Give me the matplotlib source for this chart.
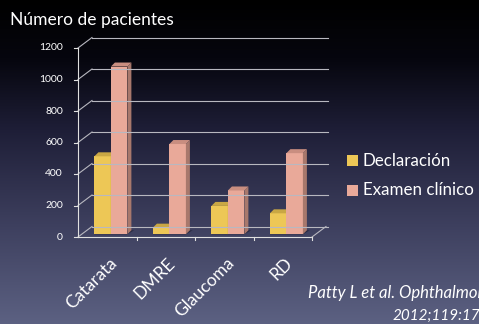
import numpy as np
import matplotlib.pyplot as plt
from matplotlib.patches import Polygon

categories = ['Catarata', 'DMRE', 'Glaucoma', 'RD']
declaracion = [495, 42, 180, 133]
examen = [1065, 573, 278, 515]
series_names = ['Declaración', 'Examen clínico']
yticks = [0, 200, 400, 600, 800, 1000, 1200]

W, H = 479, 324
fig = plt.figure(figsize=(W / 100, H / 100), dpi=100)

# background gradient
bg = fig.add_axes([0, 0, 1, 1])
stops = np.array([0.0, 0.18, 0.4, 0.7, 1.0])
cols = np.array([[0, 0, 0], [6, 6, 14], [30, 30, 55], [62, 64, 95], [92, 97, 130]]) / 255
t = np.linspace(0, 1, 300)
grad = np.stack([np.interp(t, stops, cols[:, i]) for i in range(3)], axis=1)
bg.imshow(grad[:, None, :], aspect='auto', extent=[0, 1, 0, 1])
bg.set_axis_off()

# chart axes mapped to the front plane
x0, x1 = 78, 312
y0, y1 = 237, 48
ax = fig.add_axes([x0 / W, (H - y0) / H, (x1 - x0) / W, (y0 - y1) / H])
ax.set_xlim(0, 4)
ax.set_ylim(0, 1200)
ax.set_axis_off()

pxx = (x1 - x0) / 4
pxy = (y0 - y1) / 1200
Dx, Dy = 14 / pxx, 10.5 / pxy          # full depth offset
sx, sy = 0.26 * Dx, 0.26 * Dy          # bar front depth
bx, by = 4 / pxx, 4 / pxy              # bar depth
bw = 16.5 / pxx

grid_c = '#b8b8c0'
for g in yticks:
    ax.plot([Dx, 4 + Dx + 0.03], [g + Dy, g + Dy], color=grid_c, lw=0.8, clip_on=False)
    ax.plot([0, Dx], [g, g + Dy], color=grid_c, lw=0.8, clip_on=False)
    ax.plot([-0.06, 0], [g, g], color='#e0e0e0', lw=0.8, clip_on=False)
    ax.text(-0.26, g, str(g), color='white', fontsize=7.5, family='Lato',
            ha='right', va='center')
ax.plot([0, 0], [0, 1200], color='#e0e0e0', lw=0.8, clip_on=False)
ax.plot([0, 4], [0, 0], color='#e0e0e0', lw=0.8, clip_on=False)
ax.plot([4, 4 + Dx], [0, Dy], color=grid_c, lw=0.8, clip_on=False)
for k in range(1, 5):
    ax.plot([k, k], [0, -20], color='#e0e0e0', lw=0.8, clip_on=False)

faces = {
    0: ('#edc756', '#c9a744', '#a78a36'),
    1: ('#e9a999', '#c98e80', '#a8786c'),
}
xc = np.arange(len(categories)) + 0.5
for i, c in enumerate(xc):
    for s, vals in enumerate([declaracion, examen]):
        v = vals[i]
        left = c - bw + s * bw + sx
        front, top, side = faces[s]
        # shadow on floor
        ax.add_patch(Polygon([(left, sy), (left + bw, sy), (left + bw + bx + 0.05, sy + by),
                              (left + bx + 0.05, sy + by)], closed=True,
                             facecolor='#151525', alpha=0.5, lw=0, clip_on=False))
        ax.bar(left, v, width=bw, bottom=sy, align='edge', color=front, lw=0, clip_on=False)
        ax.add_patch(Polygon([(left + bw, sy), (left + bw + bx, sy + by),
                              (left + bw + bx, sy + v + by), (left + bw, sy + v)],
                             closed=True, facecolor=side, lw=0, clip_on=False))
        ax.add_patch(Polygon([(left, sy + v), (left + bw, sy + v),
                              (left + bw + bx, sy + v + by), (left + bx, sy + v + by)],
                             closed=True, facecolor=top, lw=0, clip_on=False))

for c, name in zip(xc, categories):
    ax.text(c + 0.12, -150, name, rotation=45, rotation_mode='anchor', ha='right',
            va='center', color='white', fontsize=12.5, family='Lato')

# title
fig.text(10 / W, 1 - 25 / H, 'Número de pacientes', color='white', fontsize=12.5,
         family='Lato', ha='left', va='baseline')

# legend
for j, (name, col) in enumerate(zip(series_names, ['#edc756', '#e9a999'])):
    yc = 161 + j * 29
    fig.patches.append(plt.Rectangle((347 / W, 1 - (yc + 5.5) / H), 11 / W, 11 / H,
                                     transform=fig.transFigure, facecolor=col, lw=0))
    fig.text(363 / W, 1 - yc / H, name, color='white', fontsize=12.2, family='Lato',
             ha='left', va='center')

# citation (cut at the right edge, as in the slide)
fig.text(308 / W, 1 - 298 / H, 'Patty L et al. Ophthalmology', color='white',
         fontsize=12, style='italic', family='Lato', ha='left', va='baseline')
fig.text(393 / W, 1 - 320 / H, '2012;119:1725-32', color='white',
         fontsize=11, style='italic', family='Lato', ha='left', va='baseline')

fig.savefig('out.png', dpi=100)
